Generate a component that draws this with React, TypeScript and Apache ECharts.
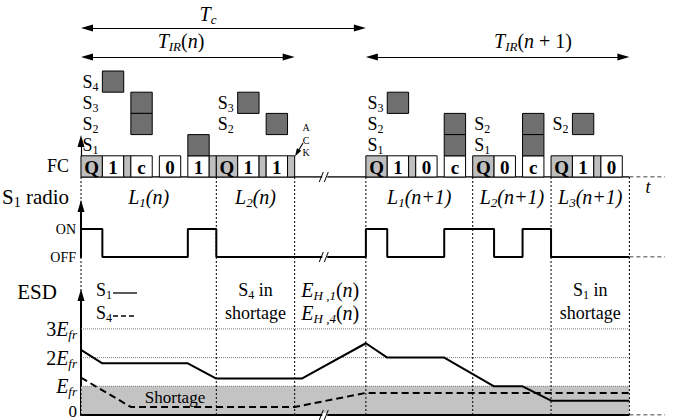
import React, { useEffect, useRef } from "react";
import * as echarts from "echarts";

// ---------------- data (time in mini-slots, energy in units of E_fr) ----------------
const slotStart = [0, 3, 6, 7, 11, 15, 18, 19, 22, 25, 26, 29, 40, 43, 46, 47, 51, 55, 58, 62, 66, 69, 72, 73];
const slotEnd = [3, 6, 7, 10, 14, 18, 19, 22, 25, 26, 29, 30, 43, 46, 47, 50, 54, 58, 61, 65, 69, 72, 73, 76];
const slotLabel = ["Q", "1", "", "c", "0", "1", "", "Q", "1", "", "1", "", "Q", "1", "", "0", "c", "Q", "0", "c", "Q", "1", "", "0"];

const txStart = [3, 7, 7, 15, 22, 26, 43, 51, 51, 62, 62, 69];
const txNode = [4, 3, 2, 1, 3, 2, 3, 2, 1, 2, 1, 2];
const txLen = 3;

const boundaries = [0, 19, 30, 40, 55, 66, 77];
const segStart = [0, 19, 40, 55, 66];
const segEnd = [19, 30, 55, 66, 77];
const segIndex = ["1", "2", "1", "2", "3"];
const segCycle = ["n", "n", "n+1", "n+1", "n+1"];

const cycleFrom = [0, 0, 40];
const cycleTo = [40, 30, 77];

const radioOnStart = [0, 15, 40, 51, 62];
const radioOnEnd = [3, 19, 43, 58, 66];

const esdS1T = [0, 3, 15, 19, 31, 40, 43, 51, 58, 62, 66, 77];
const esdS1 = [2.27, 1.8, 1.8, 1.27, 1.27, 2.5, 2.0, 2.0, 1.0, 1.0, 0.5, 0.5];
const esdS4T = [0, 7, 30, 40, 77];
const esdS4 = [1.3, 0.28, 0.28, 0.77, 0.77];

const legendNodes = ["1", "4"];
const energyTicks = [0, 1, 2, 3];
const shortageLevel = 1;
const timeEnd = 77;
const axisEnd = 82;
const breakAt = 34.3;

// ---------------- layout / style ----------------
const FONT = "Liberation Serif, serif";
const GL = 81;
const GW = 584;
const PXU = GW / axisEnd;
const TOP_H = 177;
const ROW = 21.2;
const RADIO_TOP = 206;
const RADIO_H = 51;
const RADIO_U = 28;
const ESD_TOP = 295;
const ESD_H = 120;
const E_PX = 28.7;
const LEG_DASH: (number[] | null)[] = [null, [5, 3]];

const mk = (size: number, italic = false, sub = 0, extra: any = {}) => ({
  fontFamily: FONT,
  fontSize: size,
  fontStyle: italic ? "italic" : "normal",
  color: "#000",
  fill: "#000",
  ...(sub ? { padding: [sub, 0, 0, 0] } : {}),
  ...extra,
});

const RICH: any = {
  r: mk(18),
  i: mk(18, true),
  rs: mk(12, false, 10),
  is: mk(12, true, 10),
  R: mk(20),
  I: mk(20, true),
  RS: mk(13, false, 11),
  IS: mk(13, true, 11),
  B: mk(21),
  BS: mk(14, false, 11),
  k: mk(10),
  sh: mk(17),
  z: mk(17, false, 0, { padding: [0, 0, 8, 0] }),
};

type Note = { x: number; y: number; text: string; align?: string };

function notesSeries(g: number, notes: Note[]) {
  return {
    type: "custom",
    xAxisIndex: g,
    yAxisIndex: g,
    z: 20,
    silent: true,
    data: notes.map((n) => [n.x, n.y]),
    renderItem: (params: any, api: any) => {
      const n = notes[params.dataIndex];
      const p = api.coord([n.x, n.y]);
      return {
        type: "text",
        x: p[0],
        y: p[1],
        style: {
          text: n.text,
          rich: RICH,
          fontFamily: FONT,
          fontSize: 18,
          fill: "#000",
          align: n.align || "center",
          verticalAlign: "middle",
        },
      };
    },
  };
}

function breakSeries(g: number) {
  return {
    type: "custom",
    xAxisIndex: g,
    yAxisIndex: g,
    z: 30,
    silent: true,
    data: [[breakAt, 0]],
    renderItem: (params: any, api: any) => {
      const p = api.coord([breakAt, 0]);
      return {
        type: "group",
        children: [
          { type: "rect", shape: { x: p[0] - 3, y: p[1] - 2, width: 5, height: 4 }, style: { fill: "#fff" } },
          { type: "line", shape: { x1: p[0] - 6, y1: p[1] + 5, x2: p[0] - 2, y2: p[1] - 5 }, style: { stroke: "#000", lineWidth: 1 } },
          { type: "line", shape: { x1: p[0] - 1, y1: p[1] + 5, x2: p[0] + 3, y2: p[1] - 5 }, style: { stroke: "#000", lineWidth: 1 } },
        ],
      };
    },
  };
}

function buildOption() {
  const inset = 6 / PXU;
  const arrowY = [(TOP_H - 28) / ROW, (TOP_H - 57) / ROW, (TOP_H - 57) / ROW];

  const segNodes: number[][] = segStart.map(() => []);
  txStart.forEach((s, i) => {
    const k = segStart.findIndex((a, j) => s >= a && s < segEnd[j]);
    if (k >= 0 && segNodes[k].indexOf(txNode[i]) < 0) segNodes[k].push(txNode[i]);
  });
  const nodeLabels: Note[] = [];
  segNodes.forEach((nodes, k) => {
    nodes.forEach((nd) => {
      nodeLabels.push({ x: segStart[k] + 1.5 / PXU, y: nd + 0.5, text: `{r|S}{rs|${nd}}`, align: "left" });
    });
  });

  const radioPts: number[][] = [];
  radioOnStart.forEach((s, i) => {
    radioPts.push([s, 0], [s, 1], [radioOnEnd[i], 1], [radioOnEnd[i], 0]);
  });
  radioPts.push([timeEnd, 0]);

  const topNotes: Note[] = [
    ...nodeLabels,
    { x: (208 - GL) / PXU, y: (TOP_H - 14) / ROW, text: "{I|T}{IS|c}" },
    { x: (181 - GL) / PXU, y: (TOP_H - 41) / ROW, text: "{I|T}{IS|IR}{R|(}{I|n}{R|)}" },
    { x: (533 - GL) / PXU, y: (TOP_H - 41) / ROW, text: "{I|T}{IS|IR}{R|(}{I|n}{R| + 1)}" },
    { x: (306 - GL) / PXU, y: (TOP_H - 127) / ROW, text: "{k|A}" },
    { x: (306 - GL) / PXU, y: (TOP_H - 140) / ROW, text: "{k|C}" },
    { x: (306 - GL) / PXU, y: (TOP_H - 152) / ROW, text: "{k|K}" },
    { x: (648 - GL) / PXU, y: (TOP_H - 187) / ROW, text: "{i|t}" },
  ];

  const radioNotes: Note[] = [
    { x: (2 - GL) / PXU, y: (RADIO_TOP + RADIO_H - 197) / RADIO_U, text: "{B|S}{BS|1}{B| radio}", align: "left" },
    ...segStart.map((s, k) => ({
      x: (s + segEnd[k]) / 2,
      y: (RADIO_TOP + RADIO_H - 197) / RADIO_U,
      text: `{I|L}{IS|${segIndex[k]}}{I|(${segCycle[k]})}`,
    })),
  ];

  const e0 = ESD_TOP + ESD_H;
  const legY = [(e0 - 290) / E_PX, (e0 - 313) / E_PX];
  const legX0 = (113 - GL) / PXU;
  const legX1 = (137 - GL) / PXU;
  const esdNotes: Note[] = [
    { x: (37 - GL) / PXU, y: (e0 - 292) / E_PX, text: "{B|ESD}" },
    ...legendNodes.map((nd, i) => ({ x: (96 - GL) / PXU, y: legY[i], text: `{r|S}{rs|${nd}}`, align: "left" })),
    { x: (segStart[1] + segEnd[1]) / 2, y: (e0 - 290) / E_PX, text: "{r|S}{rs|4}{r| in}" },
    { x: (segStart[1] + segEnd[1]) / 2, y: (e0 - 313) / E_PX, text: "{r|shortage}" },
    { x: (segEnd[1] + segStart[2]) / 2, y: (e0 - 290) / E_PX, text: "{I|E}{IS|H ,1}{R|(}{I|n}{R|)}" },
    { x: (segEnd[1] + segStart[2]) / 2, y: (e0 - 313) / E_PX, text: "{I|E}{IS|H ,4}{R|(}{I|n}{R|)}" },
    { x: (segStart[4] + segEnd[4]) / 2, y: (e0 - 290) / E_PX, text: "{r|S}{rs|1}{r| in}" },
    { x: (segStart[4] + segEnd[4]) / 2, y: (e0 - 313) / E_PX, text: "{r|shortage}" },
    { x: (175 - GL) / PXU, y: 0.6, text: "{sh|Shortage}" },
  ];

  const axisCommon = { splitLine: { show: false }, axisTick: { show: false } };

  return {
    animation: false,
    backgroundColor: "#fff",
    textStyle: { fontFamily: FONT },
    grid: [
      { left: GL, top: 0, width: GW, height: TOP_H, containLabel: false, outerBoundsMode: "none" },
      { left: GL, top: RADIO_TOP, width: GW, height: RADIO_H, containLabel: false, outerBoundsMode: "none" },
      { left: GL, top: ESD_TOP, width: GW, height: ESD_H, containLabel: false, outerBoundsMode: "none" },
    ],
    xAxis: [0, 1, 2].map((g) => ({ type: "value", gridIndex: g, min: 0, max: axisEnd, show: false })),
    yAxis: [
      {
        type: "value",
        gridIndex: 0,
        min: 0,
        max: TOP_H / ROW,
        interval: 0.5,
        axisLine: { show: false },
        ...axisCommon,
        axisLabel: {
          formatter: (v: number) => (v === 0.5 ? "FC" : ""),
          fontFamily: FONT,
          fontSize: 18,
          color: "#000",
          margin: 12,
        },
      },
      {
        type: "value",
        gridIndex: 1,
        min: 0,
        max: RADIO_H / RADIO_U,
        interval: 1,
        axisLine: { show: true, symbol: ["none", "triangle"], symbolSize: [7, 12], lineStyle: { color: "#000", width: 2 } },
        ...axisCommon,
        axisLabel: {
          formatter: (v: number) => (v === 1 ? "ON" : v === 0 ? "OFF" : ""),
          fontFamily: FONT,
          fontSize: 14,
          color: "#000",
          margin: 5,
        },
      },
      {
        type: "value",
        gridIndex: 2,
        min: 0,
        max: ESD_H / E_PX,
        interval: 1,
        axisLine: { show: true, symbol: ["none", "triangle"], symbolSize: [7, 12], lineStyle: { color: "#000", width: 2 } },
        ...axisCommon,
        axisLabel: {
          formatter: (v: number) => {
            if (energyTicks.indexOf(v) < 0) return "";
            if (v === 0) return "{z|0}";
            if (v === 1) return "{I|E}{IS|fr}";
            return `{R|${v}}{I|E}{IS|fr}`;
          },
          rich: RICH,
          fontFamily: FONT,
          margin: 4,
        },
      },
    ],
    series: [
      // ---------- top grid: FC slots ----------
      {
        type: "custom",
        xAxisIndex: 0,
        yAxisIndex: 0,
        z: 5,
        silent: true,
        data: slotStart.map((s, i) => [s, slotEnd[i]]),
        renderItem: (params: any, api: any) => {
          const i = params.dataIndex;
          const p0 = api.coord([slotStart[i], 1]);
          const p1 = api.coord([slotEnd[i], 0]);
          const gray = slotLabel[i] === "Q" || slotLabel[i] === "";
          return {
            type: "group",
            children: [
              {
                type: "rect",
                shape: { x: p0[0], y: p0[1], width: p1[0] - p0[0], height: p1[1] - p0[1] },
                style: { fill: gray ? "#bebebe" : "#fff", stroke: "#000", lineWidth: 1 },
              },
              {
                type: "text",
                x: (p0[0] + p1[0]) / 2,
                y: (p0[1] + p1[1]) / 2 + 1,
                style: {
                  text: slotLabel[i],
                  fontFamily: FONT,
                  fontWeight: "bold",
                  fontSize: 19,
                  fill: "#000",
                  align: "center",
                  verticalAlign: "middle",
                },
              },
            ],
          };
        },
      },
      {
        type: "custom",
        xAxisIndex: 0,
        yAxisIndex: 0,
        z: 5,
        silent: true,
        data: txStart.map((s, i) => [s, txNode[i]]),
        renderItem: (params: any, api: any) => {
          const i = params.dataIndex;
          const p0 = api.coord([txStart[i], txNode[i] + 1]);
          const p1 = api.coord([txStart[i] + txLen, txNode[i]]);
          return {
            type: "rect",
            shape: { x: p0[0], y: p0[1], width: p1[0] - p0[0], height: p1[1] - p0[1] },
            style: { fill: "#6f6f6f", stroke: "#000", lineWidth: 1 },
          };
        },
      },
      {
        type: "line",
        xAxisIndex: 0,
        yAxisIndex: 0,
        z: 4,
        silent: true,
        symbol: "none",
        data: [
          [0, 0],
          [timeEnd, 0],
        ],
        lineStyle: { color: "#000", width: 1.3 },
        markLine: {
          silent: true,
          symbol: ["triangle", "triangle"],
          symbolSize: [7, 12],
          lineStyle: { color: "#000", width: 1.2, type: "solid" },
          label: { show: false },
          emphasis: { disabled: true },
          data: [
            ...cycleFrom.map((f, i) => [{ coord: [f + inset, arrowY[i]] }, { coord: [cycleTo[i] - inset, arrowY[i]] }]),
            [
              { coord: [0, 0], symbol: "none" },
              { coord: [0, (TOP_H - 135) / ROW - 6 / ROW], symbol: "triangle" },
            ],
            [
              { coord: [(303 - GL) / PXU, (TOP_H - 143) / ROW], symbol: "none" },
              { coord: [(297 - GL) / PXU, (TOP_H - 153) / ROW], symbol: "triangle", symbolSize: [5, 8] },
            ],
          ],
        },
      },
      {
        type: "line",
        xAxisIndex: 0,
        yAxisIndex: 0,
        silent: true,
        symbol: "none",
        data: [
          [timeEnd, 0],
          [axisEnd, 0],
        ],
        lineStyle: { color: "#000", width: 1, type: [4, 3] },
      },
      notesSeries(0, topNotes),
      breakSeries(0),

      // ---------- radio grid ----------
      {
        type: "line",
        xAxisIndex: 1,
        yAxisIndex: 1,
        z: 6,
        silent: true,
        symbol: "none",
        data: radioPts,
        lineStyle: { color: "#000", width: 2 },
      },
      {
        type: "line",
        xAxisIndex: 1,
        yAxisIndex: 1,
        silent: true,
        symbol: "none",
        data: [
          [timeEnd, 0],
          [axisEnd, 0],
        ],
        lineStyle: { color: "#000", width: 1, type: [4, 3] },
      },
      notesSeries(1, radioNotes),
      breakSeries(1),

      // ---------- ESD grid ----------
      {
        type: "custom",
        xAxisIndex: 2,
        yAxisIndex: 2,
        z: 1,
        silent: true,
        data: [[0, shortageLevel]],
        renderItem: (params: any, api: any) => {
          const p0 = api.coord([0, shortageLevel]);
          const p1 = api.coord([timeEnd, 0]);
          return {
            type: "rect",
            shape: { x: p0[0], y: p0[1], width: p1[0] - p0[0], height: p1[1] - p0[1] },
            style: { fill: "#c3c3c3" },
          };
        },
      },
      {
        type: "custom",
        xAxisIndex: 2,
        yAxisIndex: 2,
        z: 2,
        silent: true,
        data: energyTicks.filter((v) => v > 0).map((v) => [0, v]),
        renderItem: (params: any, api: any) => {
          const v = energyTicks.filter((t) => t > 0)[params.dataIndex];
          const p0 = api.coord([0, v]);
          const p1 = api.coord([timeEnd, v]);
          return {
            type: "line",
            shape: { x1: p0[0], y1: p0[1], x2: p1[0], y2: p1[1] },
            style: { stroke: "#7a7a7a", lineWidth: 1, lineDash: [1, 1] },
          };
        },
      },
      {
        type: "custom",
        xAxisIndex: 2,
        yAxisIndex: 2,
        z: 3,
        silent: true,
        data: boundaries.map((b) => [b, 0]),
        renderItem: (params: any, api: any) => {
          const b = boundaries[params.dataIndex];
          const p = api.coord([b, 0]);
          return {
            type: "line",
            shape: { x1: p[0], y1: TOP_H, x2: p[0], y2: p[1] },
            style: { stroke: "#000", lineWidth: 1, lineDash: [2, 2] },
          };
        },
      },
      {
        name: "S1",
        type: "line",
        xAxisIndex: 2,
        yAxisIndex: 2,
        z: 6,
        silent: true,
        symbol: "none",
        data: esdS1T.map((t, i) => [t, esdS1[i]]),
        lineStyle: { color: "#000", width: 2 },
      },
      {
        name: "S4",
        type: "line",
        xAxisIndex: 2,
        yAxisIndex: 2,
        z: 6,
        silent: true,
        symbol: "none",
        data: esdS4T.map((t, i) => [t, esdS4[i]]),
        lineStyle: { color: "#000", width: 2, type: [7, 4] },
      },
      // legend keys (line samples) for S1 / S4
      {
        type: "custom",
        xAxisIndex: 2,
        yAxisIndex: 2,
        z: 8,
        silent: true,
        data: legendNodes.map((nd, i) => [legX0, legY[i]]),
        renderItem: (params: any, api: any) => {
          const i = params.dataIndex;
          const a = api.coord([legX0, legY[i]]);
          const b = api.coord([legX1, legY[i]]);
          const style: any = { stroke: "#000", lineWidth: 1.3 };
          if (LEG_DASH[i]) style.lineDash = LEG_DASH[i];
          return {
            type: "line",
            shape: { x1: a[0], y1: a[1] + 3, x2: b[0], y2: b[1] + 3 },
            style,
          };
        },
      },
      {
        type: "line",
        xAxisIndex: 2,
        yAxisIndex: 2,
        z: 7,
        silent: true,
        symbol: "none",
        data: [
          [0, 0],
          [timeEnd, 0],
        ],
        lineStyle: { color: "#000", width: 2 },
      },
      {
        type: "line",
        xAxisIndex: 2,
        yAxisIndex: 2,
        silent: true,
        symbol: "none",
        data: [
          [timeEnd, 0],
          [axisEnd, 0],
        ],
        lineStyle: { color: "#000", width: 1, type: [4, 3] },
      },
      notesSeries(2, esdNotes),
      breakSeries(2),
    ],
  };
}

export default function App() {
  const ref = useRef<HTMLDivElement>(null);
  useEffect(() => {
    if (!ref.current) return;
    const chart = echarts.init(ref.current, null, { renderer: "svg" });
    chart.setOption(buildOption() as any);
    return () => chart.dispose();
  }, []);
  return (
    <div
      ref={ref}
      style={{ position: "absolute", left: 0, top: 0, width: 673, height: 420, background: "#fff" }}
    />
  );
}
